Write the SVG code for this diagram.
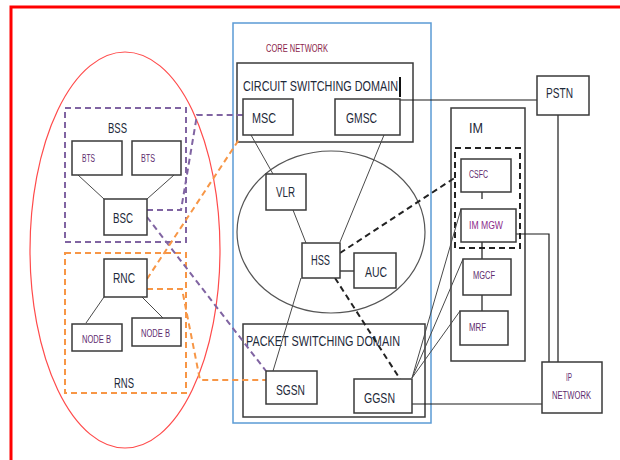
<svg xmlns="http://www.w3.org/2000/svg" width="620" height="460" viewBox="0 0 620 460">
  <style>
    .box { fill: #fff; stroke: #3a3a3a; stroke-width: 1.5; }
    .frame { fill: none; stroke: #3a3a3a; stroke-width: 1.5; }
    .ln { fill: none; stroke: #4a4a4a; stroke-width: 1; }
    .ext { fill: none; stroke: #1a1a1a; stroke-width: 1.2; }
    .dk { fill: none; stroke: #222; stroke-width: 2; stroke-dasharray: 6 4; }
    .pu { fill: none; stroke: #8064a2; stroke-width: 2; stroke-dasharray: 6 4; }
    .or { fill: none; stroke: #f79646; stroke-width: 2; stroke-dasharray: 6 4; }
    text { font-family: "Liberation Sans", Arial, sans-serif; fill: #1e2a3a; }
    .big { font-size: 14px; }
    .sm { font-size: 10px; fill: #5e2b6e; }
  </style>

  <!-- outer page frame -->
  <rect x="11" y="7" width="640" height="480" fill="none" stroke="#ff0000" stroke-width="3"/>

  <!-- radio access area -->
  <ellipse cx="125" cy="250" rx="95" ry="198" fill="none" stroke="#ff4b4b" stroke-width="1.2"/>

  <!-- core network frame -->
  <rect x="233" y="23" width="198" height="400" fill="none" stroke="#5b9bd5" stroke-width="1.5"/>
  <text x="266" y="52" font-size="11" textLength="62" lengthAdjust="spacingAndGlyphs" style="fill:#8b1e4a">CORE NETWORK</text>

  <!-- subscriber database area -->
  <ellipse cx="331" cy="232" rx="94" ry="81" fill="none" stroke="#555" stroke-width="1.2"/>

  <g id="bss">
    <rect x="65" y="108" width="121" height="134" class="pu"/>
    <text class="big" x="108" y="133" textLength="19" lengthAdjust="spacingAndGlyphs">BSS</text>
  </g>
  <g id="rns">
    <rect x="65" y="253" width="121" height="140" class="or"/>
    <text class="big" x="114" y="388" textLength="20" lengthAdjust="spacingAndGlyphs">RNS</text>
  </g>

  <g id="circuit-switching-domain">
    <rect x="237" y="63" width="176" height="79" class="frame"/>
    <text class="big" x="243" y="91" textLength="155" lengthAdjust="spacingAndGlyphs">CIRCUIT SWITCHING DOMAIN</text>
    <line x1="400" y1="77" x2="400" y2="97" stroke="#111" stroke-width="2"/>
  </g>
  <g id="packet-switching-domain">
    <rect x="243" y="324" width="182" height="93" class="frame"/>
    <text class="big" x="246" y="346" textLength="154" lengthAdjust="spacingAndGlyphs">PACKET SWITCHING DOMAIN</text>
  </g>
  <g id="im">
    <rect x="451" y="108" width="74" height="253" class="frame"/>
    <text class="big" x="469" y="133" textLength="14" lengthAdjust="spacingAndGlyphs">IM</text>
    <rect x="455" y="148" width="65" height="100" class="dk"/>
  </g>

  <!-- connectors -->
  <g id="connectors">
    <!-- BTS / BSC -->
    <line class="ln" x1="78" y1="175" x2="104" y2="199"/>
    <line class="ln" x1="174" y1="175" x2="147" y2="199"/>
    <!-- RNC / Node B -->
    <line class="ln" x1="104" y1="297" x2="86" y2="323"/>
    <line class="ln" x1="142" y1="297" x2="163" y2="318"/>
    <!-- access to core, dashed -->
    <polyline class="pu" points="147,210 181,210 197,115 243,115"/>
    <line class="pu" x1="147" y1="217" x2="266" y2="371"/>
    <line class="or" x1="147" y1="279" x2="240" y2="138"/>
    <polyline class="or" points="147,289 182,289 200,380 266,380"/>
    <!-- core internal -->
    <line class="ln" x1="251" y1="135" x2="273" y2="174"/>
    <line class="ln" x1="384" y1="135" x2="340" y2="242"/>
    <line class="ln" x1="293" y1="210" x2="306" y2="243"/>
    <line class="ln" x1="301" y1="278" x2="273" y2="371"/>
    <line class="ext" x1="340" y1="271" x2="354" y2="271"/>
    <line class="dk" x1="340" y1="253" x2="456" y2="177"/>
    <line class="dk" x1="335" y1="278" x2="400" y2="379"/>
    <!-- GGSN to IM -->
    <line class="ln" x1="412" y1="378" x2="461" y2="209"/>
    <line class="ln" x1="412" y1="378" x2="463" y2="259"/>
    <line class="ln" x1="412" y1="378" x2="460" y2="311"/>
    <!-- external links -->
    <line class="ext" x1="400" y1="100" x2="537" y2="100"/>
    <line class="ext" x1="558" y1="115" x2="558" y2="362"/>
    <polyline class="ext" points="516,234 549,234 549,362"/>
    <line class="ext" x1="412" y1="404" x2="542" y2="404"/>
    <!-- IM chain -->
    <line class="ext" x1="482" y1="192" x2="482" y2="199"/>
    <line class="ext" x1="482" y1="242" x2="482" y2="259"/>
    <line class="ext" x1="482" y1="295" x2="482" y2="311"/>
  </g>

  <g id="bts1">
    <rect x="72" y="141" width="50" height="34" class="box"/>
    <text class="sm" x="82" y="162" textLength="13" lengthAdjust="spacingAndGlyphs">BTS</text>
  </g>
  <g id="bts2">
    <rect x="132" y="141" width="49" height="34" class="box"/>
    <text class="sm" x="141" y="162" textLength="14" lengthAdjust="spacingAndGlyphs">BTS</text>
  </g>
  <g id="bsc">
    <rect x="104" y="199" width="43" height="36" class="box"/>
    <text class="big" x="113" y="223" textLength="20" lengthAdjust="spacingAndGlyphs">BSC</text>
  </g>
  <g id="rnc">
    <rect x="104" y="259" width="43" height="38" class="box"/>
    <text class="big" x="113" y="283" textLength="22" lengthAdjust="spacingAndGlyphs">RNC</text>
  </g>
  <g id="nodeb1">
    <rect x="72" y="324" width="50" height="27" class="box"/>
    <text class="sm" x="82" y="343" textLength="29" lengthAdjust="spacingAndGlyphs">NODE B</text>
  </g>
  <g id="nodeb2">
    <rect x="132" y="318" width="49" height="28" class="box"/>
    <text class="sm" x="141" y="337" textLength="29" lengthAdjust="spacingAndGlyphs">NODE B</text>
  </g>

  <g id="msc">
    <rect x="243" y="99" width="50" height="36" class="box"/>
    <text class="big" x="252" y="123" textLength="24" lengthAdjust="spacingAndGlyphs">MSC</text>
  </g>
  <g id="gmsc">
    <rect x="335" y="99" width="65" height="36" class="box"/>
    <text class="big" x="346" y="123" textLength="31" lengthAdjust="spacingAndGlyphs">GMSC</text>
  </g>
  <g id="vlr">
    <rect x="266" y="174" width="40" height="36" class="box"/>
    <text class="big" x="276" y="197" textLength="19" lengthAdjust="spacingAndGlyphs">VLR</text>
  </g>
  <g id="hss">
    <rect x="302" y="243" width="38" height="35" class="box"/>
    <text class="big" x="311" y="265" textLength="19" lengthAdjust="spacingAndGlyphs">HSS</text>
  </g>
  <g id="auc">
    <rect x="354" y="253" width="42" height="35" class="box"/>
    <text class="big" x="365" y="277" textLength="22" lengthAdjust="spacingAndGlyphs">AUC</text>
  </g>
  <g id="sgsn">
    <rect x="266" y="371" width="51" height="33" class="box"/>
    <text class="big" x="276" y="395" textLength="29" lengthAdjust="spacingAndGlyphs">SGSN</text>
  </g>
  <g id="ggsn">
    <rect x="354" y="379" width="58" height="34" class="box"/>
    <text class="big" x="364" y="403" textLength="31" lengthAdjust="spacingAndGlyphs">GGSN</text>
  </g>

  <g id="pstn">
    <rect x="537" y="76" width="52" height="39" class="box"/>
    <text class="big" x="546" y="98" textLength="27" lengthAdjust="spacingAndGlyphs">PSTN</text>
  </g>
  <g id="csfc">
    <rect x="461" y="159" width="50" height="33" class="box"/>
    <text class="sm" x="469" y="178" textLength="19" lengthAdjust="spacingAndGlyphs">CSFC</text>
  </g>
  <g id="im-mgw">
    <rect x="461" y="209" width="55" height="33" class="box"/>
    <text class="sm" x="469" y="229" textLength="34" lengthAdjust="spacingAndGlyphs" style="fill:#8b2a8b">IM MGW</text>
  </g>
  <g id="mgcf">
    <rect x="463" y="259" width="48" height="36" class="box"/>
    <text class="sm" x="473" y="279" textLength="22" lengthAdjust="spacingAndGlyphs">MGCF</text>
  </g>
  <g id="mrf">
    <rect x="460" y="311" width="48" height="34" class="box"/>
    <text class="sm" x="469" y="331" textLength="17" lengthAdjust="spacingAndGlyphs">MRF</text>
  </g>
  <g id="ip-network">
    <rect x="542" y="362" width="60" height="51" class="box"/>
    <text class="sm" x="566" y="381" textLength="6" lengthAdjust="spacingAndGlyphs">IP</text>
    <text class="sm" x="552" y="399" textLength="39" lengthAdjust="spacingAndGlyphs">NETWORK</text>
  </g>
</svg>
